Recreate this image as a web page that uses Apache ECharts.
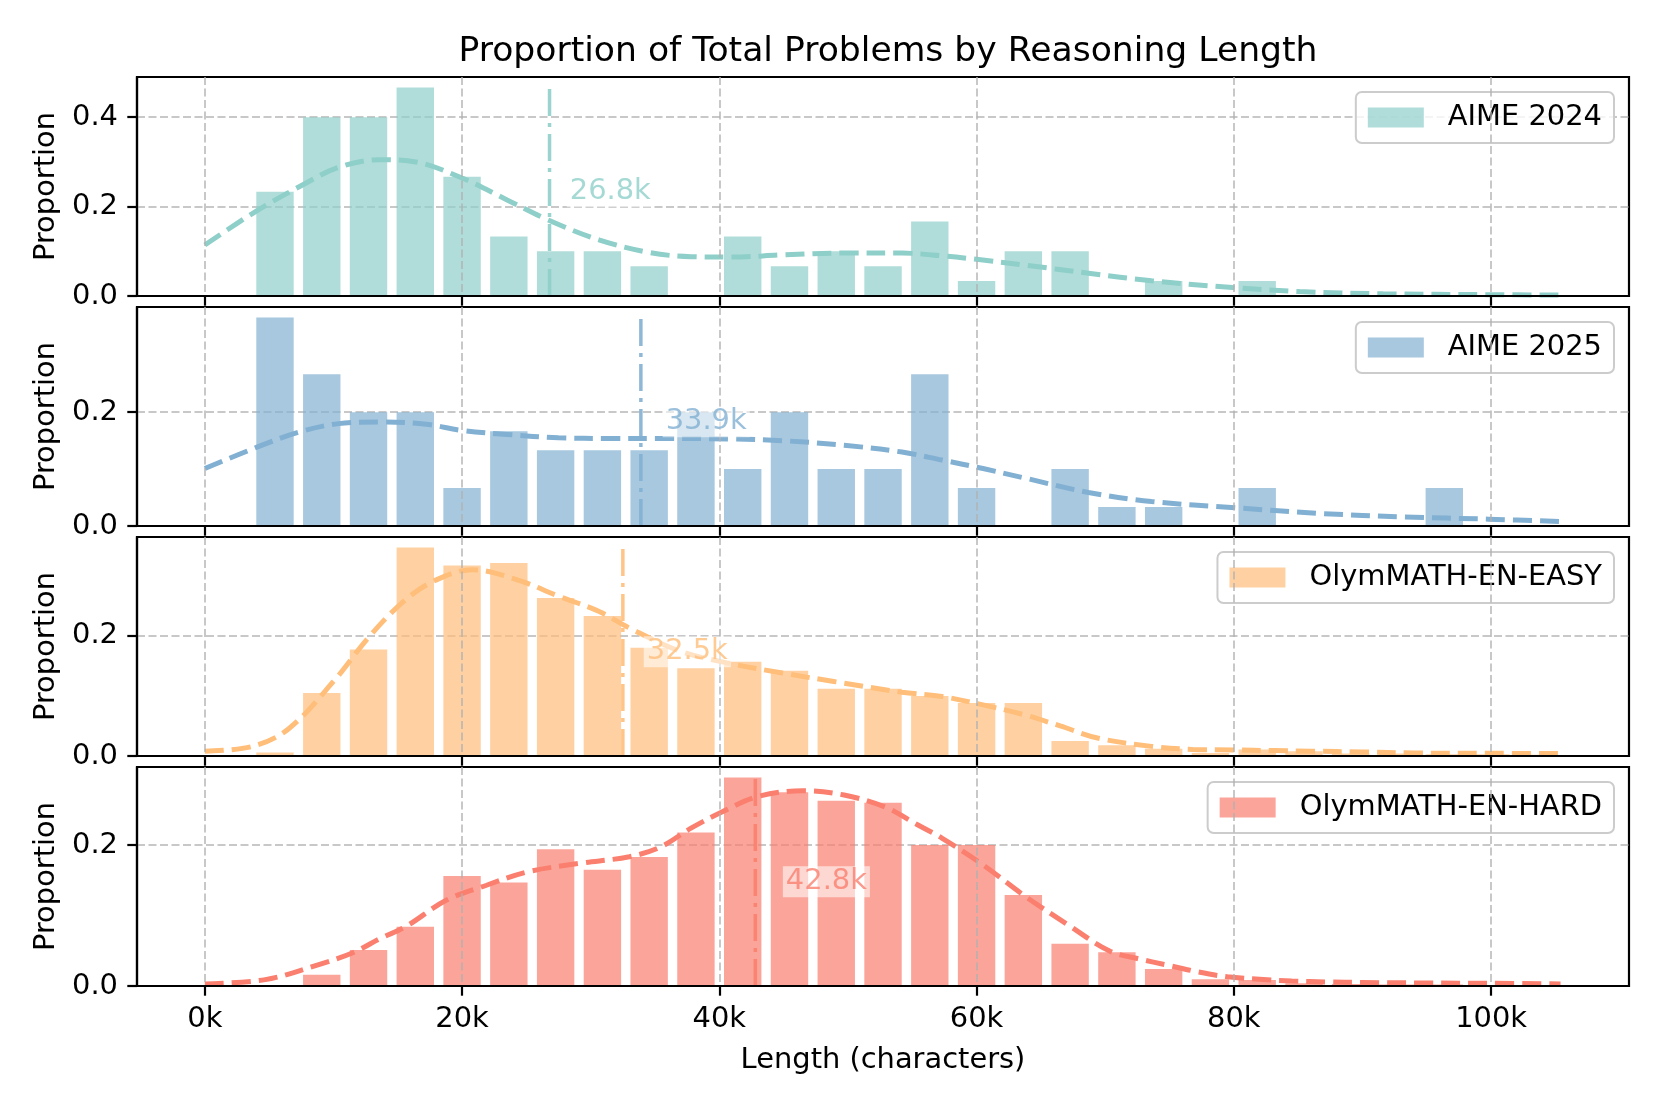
<!DOCTYPE html>
<html><head><meta charset="utf-8">
<script src="https://cdn.jsdelivr.net/npm/echarts@6/dist/echarts.min.js"></script>
<style>html,body{margin:0;padding:0;background:#fff}#c{width:1661px;height:1107px}</style>
</head><body><div id="c"></div>
<script>
// ---------- DATA ----------
const binCenters = [1818, 5455, 9091, 12727, 16364, 20000, 23636, 27273, 30909, 34545, 38182, 41818, 45455, 49091, 52727, 56364, 60000, 63636, 67273, 70909, 74545, 78182, 81818, 85455, 89091, 92727, 96364, 100000, 103636];

const aime2024 = [0, 0.2333, 0.4, 0.4, 0.4667, 0.2667, 0.1333, 0.1, 0.1, 0.0667, 0, 0.1333, 0.0667, 0.1, 0.0667, 0.1667, 0.0333, 0.1, 0.1, 0, 0.0333, 0, 0.0333, 0, 0, 0, 0, 0, 0];
const aime2025 = [0, 0.3667, 0.2667, 0.2, 0.2, 0.0667, 0.1667, 0.1333, 0.1333, 0.1333, 0.2, 0.1, 0.2, 0.1, 0.1, 0.2667, 0.0667, 0, 0.1, 0.0333, 0.0333, 0, 0.0667, 0, 0, 0, 0.0667, 0, 0];
const olymEasy = [0, 0.006, 0.105, 0.177, 0.347, 0.317, 0.321, 0.263, 0.233, 0.18, 0.146, 0.157, 0.142, 0.112, 0.112, 0.10, 0.088, 0.088, 0.025, 0.018, 0.012, 0.005, 0.011, 0.008, 0.004, 0.004, 0.003, 0.003, 0.002];
const olymHard = [0, 0, 0.016, 0.051, 0.084, 0.156, 0.147, 0.194, 0.165, 0.183, 0.218, 0.296, 0.275, 0.263, 0.26, 0.2, 0.2, 0.129, 0.06, 0.048, 0.024, 0.0095, 0.0085, 0.004, 0.003, 0.002, 0.002, 0.001, 0.001];

// KDE curves (x in thousands of characters)
const kde2024X = [0, 4, 7.7, 10.4, 13.6, 16.4, 20, 23.5, 26.7, 30.7, 34.6, 37.8, 41, 44.9, 49.7, 54.2, 57.3, 60, 63.8, 68.7, 73.6, 79.9, 85.1, 91.6, 99.8, 105.4];
const kde2024Y = [0.114, 0.19, 0.25, 0.288, 0.305, 0.3, 0.264, 0.215, 0.17, 0.125, 0.097, 0.088, 0.087, 0.092, 0.096, 0.096, 0.09, 0.082, 0.069, 0.051, 0.034, 0.019, 0.01, 0.005, 0.003, 0.002];

const kde2025X = [0, 4.1, 7.3, 10.4, 13.6, 17.2, 20, 23.5, 27.5, 31.4, 35.4, 41, 44.9, 49.7, 54.2, 57.3, 60.5, 63.8, 68.7, 73.6, 80.2, 86.7, 93.3, 99.8, 105.4];
const kde2025Y = [0.101, 0.139, 0.165, 0.18, 0.183, 0.179, 0.168, 0.161, 0.155, 0.154, 0.154, 0.153, 0.15, 0.142, 0.13, 0.116, 0.101, 0.084, 0.059, 0.043, 0.032, 0.022, 0.016, 0.012, 0.008];

const kdeEasyX = [0, 3.7, 6.5, 10, 12.8, 15.6, 18, 20.8, 24.3, 27.5, 30.7, 33, 37, 40.6, 44.9, 48.9, 54.2, 57.3, 60.5, 63.8, 66.5, 69.4, 73.6, 76.8, 80, 83, 86, 90, 94, 99.5, 105.4];
const kdeEasyY = [0.008, 0.016, 0.045, 0.124, 0.199, 0.26, 0.293, 0.31, 0.293, 0.266, 0.24, 0.213, 0.174, 0.155, 0.138, 0.124, 0.106, 0.099, 0.085, 0.068, 0.05, 0.03, 0.016, 0.011, 0.01, 0.009, 0.008, 0.0067, 0.005, 0.0045, 0.004];

const kdeHardX = [0, 4.7, 8.8, 11.6, 13.7, 15.6, 18.8, 21.9, 25.1, 29.1, 33, 35.4, 37.8, 40.2, 43, 46.5, 49.7, 52.9, 55.3, 57.3, 60.5, 63.8, 67.1, 70.3, 72.5, 75, 77.2, 79.5, 82, 84.5, 87.3, 90, 95, 100, 105.4];
const kdeHardY = [0.003, 0.009, 0.03, 0.048, 0.068, 0.084, 0.122, 0.143, 0.162, 0.174, 0.1835, 0.197, 0.224, 0.247, 0.269, 0.277, 0.271, 0.254, 0.23, 0.21, 0.172, 0.127, 0.087, 0.05, 0.039, 0.029, 0.02, 0.013, 0.0095, 0.007, 0.0057, 0.005, 0.0043, 0.0038, 0.003];

const means = [26800, 33900, 32500, 42800];
const datasetNames = ['AIME 2024', 'AIME 2025', 'OlymMATH-EN-EASY', 'OlymMATH-EN-HARD'];
const colors = ['#8ECFC9', '#82B0D2', '#FFBE7A', '#FA7F6F'];
const barColors = ['rgba(142,207,201,0.7)', 'rgba(130,176,210,0.7)', 'rgba(255,190,122,0.7)', 'rgba(250,127,111,0.7)'];
const xTicks = [0, 20000, 40000, 60000, 80000, 100000];
const yTicks = [[0, 0.2, 0.4], [0, 0.2], [0, 0.2], [0, 0.2]];
const titleText = 'Proportion of Total Problems by Reasoning Length';
const xName = 'Length (characters)';
const yName = 'Proportion';

// ---------- BUILD ----------
const barsAll = [aime2024, aime2025, olymEasy, olymHard];
const kdeXs = [kde2024X, kde2025X, kdeEasyX, kdeHardX];
const kdeYs = [kde2024Y, kde2025Y, kdeEasyY, kdeHardY];

const FONT = 'DejaVu Sans';
const FS = 28.9;
const tops = [77, 307, 537, 767];
const H = 219;
const xMin = -5272.5, xMax = 110722.5;

const grids = [], xAxes = [], yAxes = [], series = [], legends = [];
for (let i = 0; i < 4; i++) {
  const vals = barsAll[i];
  const maxBar = Math.max(...vals);
  grids.push({left: 137, right: 32, top: tops[i], height: H, show: true,
    borderColor: '#000', borderWidth: 2.2, backgroundColor: 'transparent'});
  xAxes.push({
    gridIndex: i, type: 'value', min: xMin, max: xMax, z: 10,
    axisLine: {show: true, onZero: false, lineStyle: {color: '#000', width: 2.2}},
    axisTick: {show: true, length: 9.7, customValues: xTicks, lineStyle: {color: '#000', width: 2.2}},
    axisLabel: {show: i === 3, customValues: xTicks, formatter: v => Math.round(v / 1000) + 'k',
      fontSize: FS, color: '#000', margin: 19.4, fontFamily: FONT},
    splitLine: {show: true, lineStyle: {color: 'rgba(176,176,176,0.7)', type: [8, 3.5], width: 2}},
    name: i === 3 ? xName : '', nameLocation: 'middle', nameGap: 60,
    nameTextStyle: {fontSize: FS, color: '#000', fontFamily: FONT}
  });
  yAxes.push({
    gridIndex: i, type: 'value', min: 0, max: maxBar * 1.05,
    axisLine: {show: true, onZero: false, lineStyle: {color: '#000', width: 2.2}},
    axisTick: {show: true, length: 9.7, customValues: yTicks[i], lineStyle: {color: '#000', width: 2.2}},
    axisLabel: {show: true, customValues: yTicks[i], formatter: v => v.toFixed(1),
      fontSize: FS, color: '#000', margin: 19, fontFamily: FONT},
    splitLine: {show: true, lineStyle: {color: 'rgba(176,176,176,0.7)', type: [8, 3.5], width: 2}},
    name: yName, nameLocation: 'middle', nameGap: 76, nameRotate: 90,
    nameTextStyle: {fontSize: FS, color: '#000', fontFamily: FONT}
  });
  series.push({
    name: datasetNames[i], type: 'bar', xAxisIndex: i, yAxisIndex: i,
    data: binCenters.map((x, j) => [x, vals[j]]), barWidth: 37.4,
    itemStyle: {color: barColors[i]}, z: 2, animation: false
  });
  series.push({
    name: datasetNames[i] + ' KDE', type: 'line', xAxisIndex: i, yAxisIndex: i,
    data: kdeXs[i].map((x, j) => [x * 1000, kdeYs[i][j]]), smooth: 0.35, symbol: 'none',
    lineStyle: {color: colors[i], width: 5, type: [19, 8]}, z: 3, animation: false, silent: true
  });
  series.push({
    name: datasetNames[i] + ' mean', type: 'line', xAxisIndex: i, yAxisIndex: i,
    data: [[means[i], 0], [means[i], maxBar]], symbol: 'none',
    lineStyle: {color: colors[i], width: 3.5, type: [27, 7, 4, 7], opacity: 0.9}, z: 4, animation: false, silent: true
  });
  series.push({
    name: datasetNames[i] + ' label', type: 'scatter', xAxisIndex: i, yAxisIndex: i,
    data: [[means[i] * 1.05, maxBar * 0.5]], symbolSize: 0, z: 10, animation: false, silent: true,
    label: {show: true, position: 'right', distance: 0,
      formatter: () => (means[i] / 1000).toFixed(1) + 'k',
      color: colors[i], fontSize: FS, fontFamily: FONT,
      backgroundColor: 'rgba(255,255,255,0.7)', padding: [2, 3, 0, 3]}
  });
  legends.push({
    data: [datasetNames[i]], right: 47, top: tops[i] + 15, orient: 'vertical',
    icon: 'rect', itemWidth: 56, itemHeight: 20,
    textStyle: {fontSize: FS, color: '#000', fontFamily: FONT, padding: [0, 0, 0, 19]},
    padding: [11, 12, 11, 12], borderColor: '#cccccc', borderWidth: 2, borderRadius: 6,
    backgroundColor: 'rgba(255,255,255,0.8)', selectedMode: false
  });
}

const chart = echarts.init(document.getElementById('c'), null, {renderer: 'canvas'});
chart.setOption({
  animation: false,
  backgroundColor: '#fff',
  title: {text: titleText, left: 883, top: 30, textAlign: 'center',
    textStyle: {fontSize: 34.6, fontWeight: 'normal', color: '#000', fontFamily: FONT}},
  grid: grids, xAxis: xAxes, yAxis: yAxes, series: series, legend: legends
});
</script></body></html>
